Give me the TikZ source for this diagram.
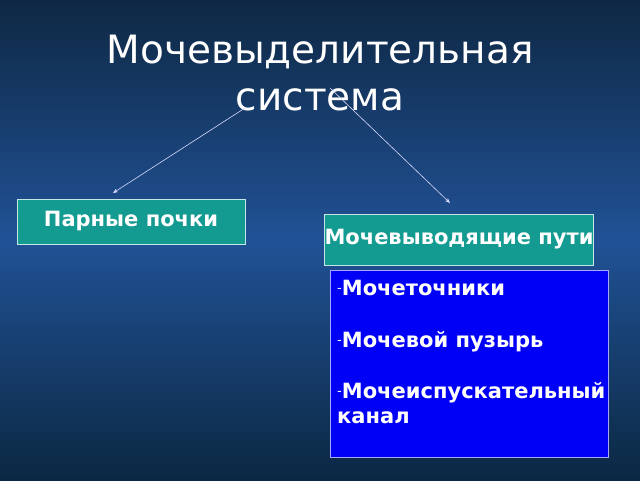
\documentclass[tikz,border=0pt]{standalone}
\usepackage{fontspec}
\setmainfont{DejaVu Sans}
\usetikzlibrary{arrows.meta}
\definecolor{bgtop}{HTML}{0E2844}
\definecolor{bgmid}{HTML}{215296}
\definecolor{bgbot}{HTML}{0B2842}
\definecolor{tealbox}{HTML}{139B91}
\definecolor{bluebox}{HTML}{0000F6}
\tikzset{
  x=1pt,y=-1pt,
  titletext/.style={text=white,font=\fontsize{39}{41}\selectfont,inner sep=0pt},
  headbox/.style={fill=tealbox,draw=white!75!tealbox,line width=0.8pt,text=white,
    font=\bfseries\fontsize{21}{23}\selectfont,inner sep=0pt},
  listbox/.style={fill=bluebox,draw=blue!35!white,line width=0.8pt,inner sep=0pt},
  listline/.style={text=white,font=\bfseries\fontsize{21}{23}\selectfont,inner sep=0pt,anchor=base west},
  conn/.style={draw=white!85!blue,line width=0.6pt,-{Stealth[length=5pt,width=4pt]}},
}
\newcommand{\mydash}{{\mdseries\fontsize{13}{13}\selectfont\raisebox{0.3ex}{-}}}
\begin{document}
\begin{tikzpicture}
\useasboundingbox (0,0) rectangle (640,480);
\shade[top color=bgtop,bottom color=bgbot,middle color=bgmid] (0,0) rectangle (640,480);
% title
\node[titletext] (t1) at (320,52) {Мочевыделительная};
\node[titletext] (t2) at (320,100) {система};
% boxes
\node[headbox,minimum width=228,minimum height=45] (b1) at (131,221.5) {Парные почки};
\node[headbox,minimum width=268,minimum height=51] (b2) at (459,239.5) {Мочевыводящие пути};
\node[listbox,minimum width=278,minimum height=187] (b3) at (469,363.5) {};
\node[listline] (l1) at (337,295) {\mydash Мочеточники};
\node[listline] (l2) at (337,347) {\mydash Мочевой пузырь};
\node[listline] (l3) at (337,398) {\mydash Мочеиспускательный};
\node[listline] (l4) at (337,423) {канал};
% connectors
\coordinate (a1s) at (245,108);
\coordinate (a1e) at (113,193);
\coordinate (a2s) at (330,88);
\coordinate (a2e) at (450,203);
\draw[conn] (a1s) -- (a1e);
\draw[conn] (a2s) -- (a2e);
\end{tikzpicture}
\end{document}
